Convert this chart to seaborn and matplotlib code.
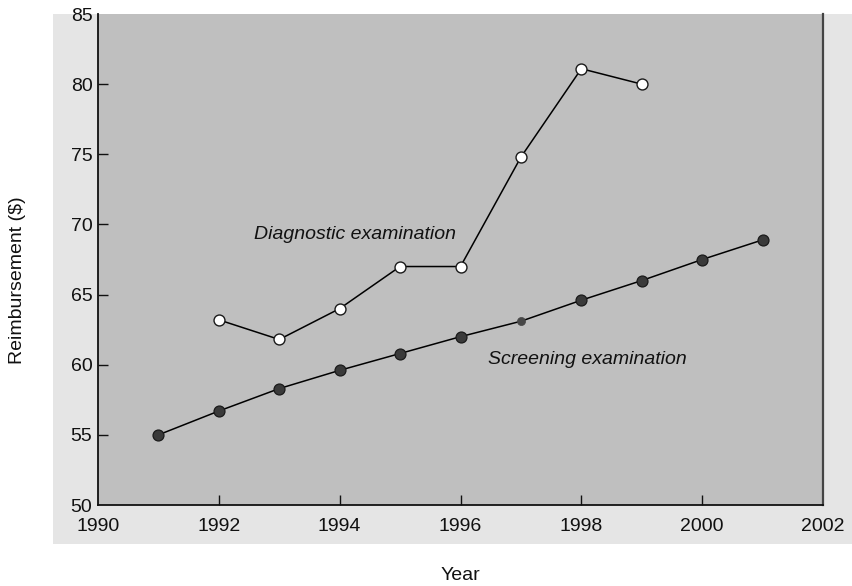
import matplotlib
matplotlib.use("Agg")
import matplotlib.pyplot as plt
import numpy as np
import pandas as pd
import seaborn as sns
from matplotlib.patches import Rectangle

# data
screening_years = [1991, 1992, 1993, 1994, 1995, 1996, 1997, 1998, 1999, 2000, 2001]
screening_values = [55.0, 56.7, 58.3, 59.6, 60.8, 62.0, 63.1, 64.6, 66.0, 67.5, 68.9]
diagnostic_years = [1992, 1993, 1994, 1995, 1996, 1997, 1998, 1999]
diagnostic_values = [63.2, 61.8, 64.0, 67.0, 67.0, 74.8, 81.1, 80.0]
x_ticks = [1990, 1992, 1994, 1996, 1998, 2000, 2002]
y_ticks = [50, 55, 60, 65, 70, 75, 80, 85]

sns.set_theme(style="ticks")
plt.rcParams["font.family"] = ["Liberation Sans", "DejaVu Sans"]
plt.rcParams["text.color"] = "#111111"
plt.rcParams["xtick.color"] = "#111111"
plt.rcParams["ytick.color"] = "#111111"

fig = plt.figure(figsize=(8.52, 5.86), dpi=100)
fig.patch.set_facecolor("white")
# light grey panel behind the axes
fig.patches.append(Rectangle((0.0622, 0.0717), 1.0, 0.9761 - 0.0717,
                             transform=fig.transFigure, facecolor="#e5e5e5",
                             edgecolor="none", zorder=-10))
ax = fig.add_axes([0.1150, 0.1382, 0.9660 - 0.1150, 0.9761 - 0.1382])
ax.set_zorder(1)
ax.set_facecolor("#bfbfbf")

scr = pd.DataFrame({"year": screening_years, "value": screening_values})
dia = pd.DataFrame({"year": diagnostic_years, "value": diagnostic_values})

sns.lineplot(data=scr, x="year", y="value", ax=ax, color="black", lw=1.1, zorder=2)
sns.lineplot(data=dia, x="year", y="value", ax=ax, color="black", lw=1.1, zorder=2)

odd = scr["year"] == 1997
sns.scatterplot(data=scr[~odd], x="year", y="value", ax=ax, s=62, color="#3a3a3a",
                edgecolor="#1a1a1a", linewidth=0.9, zorder=3)
sns.scatterplot(data=scr[odd], x="year", y="value", ax=ax, s=34, color="#474747",
                edgecolor="#474747", linewidth=0.5, zorder=3)
sns.scatterplot(data=dia, x="year", y="value", ax=ax, s=62, color="white",
                edgecolor="#1a1a1a", linewidth=1.0, zorder=3)

ax.text(1992.58, 69.3, "Diagnostic examination", fontsize=14, style="italic",
        va="center", ha="left")
ax.text(1996.45, 60.4, "Screening examination", fontsize=14, style="italic",
        va="center", ha="left")

ax.set_xlim(1990, 2002)
ax.set_ylim(50, 85)
ax.set_xticks(x_ticks)
ax.set_yticks(y_ticks)
ax.tick_params(axis="both", direction="in", length=7, width=1.0, colors="#111111",
               labelsize=14)
ax.tick_params(axis="x", pad=9)
ax.tick_params(axis="y", pad=4)
ax.set_xlabel("")
ax.set_ylabel("")
# the end ticks sit on the frame, hide their marks
for t in [ax.xaxis.get_major_ticks()[0], ax.xaxis.get_major_ticks()[-1],
          ax.yaxis.get_major_ticks()[0], ax.yaxis.get_major_ticks()[-1]]:
    t.tick1line.set_visible(False)

ax.spines["top"].set_visible(False)
for side in ["left", "bottom"]:
    ax.spines[side].set_color("#111111")
    ax.spines[side].set_linewidth(1.3)
ax.spines["right"].set_color("#444444")
ax.spines["right"].set_linewidth(1.6)

fig.text(0.540, 1 - 575 / 586, "Year", fontsize=14, ha="center", va="center")
fig.text(18 / 852, 1 - 280 / 586, "Reimbursement ($)", fontsize=14, rotation=90,
         ha="center", va="center")

fig.savefig("out.png", dpi=100)
